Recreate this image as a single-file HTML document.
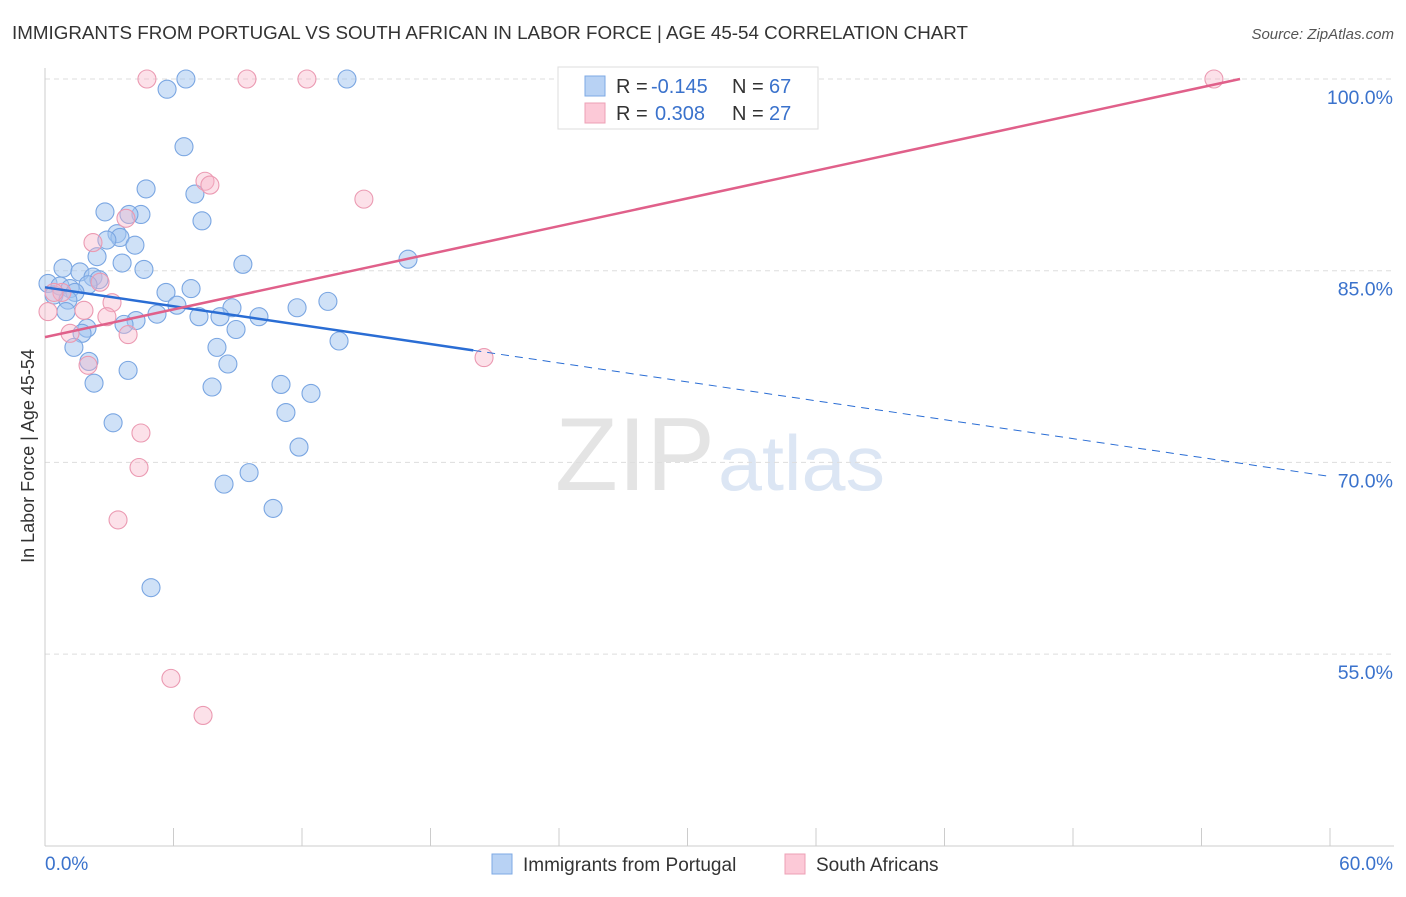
<!DOCTYPE html>
<html><head><meta charset="utf-8"><style>
body{margin:0;background:#fff;font-family:"Liberation Sans",sans-serif}
svg text{font-family:"Liberation Sans",sans-serif}
</style></head><body>
<svg id="c" width="1406" height="892" xmlns="http://www.w3.org/2000/svg">
<text x="12" y="39" font-size="18" fill="#333" textLength="956" lengthAdjust="spacingAndGlyphs">IMMIGRANTS FROM PORTUGAL VS SOUTH AFRICAN IN LABOR FORCE | AGE 45-54 CORRELATION CHART</text>
<text x="1394" y="39" font-size="15" fill="#555" text-anchor="end" font-style="italic">Source: ZipAtlas.com</text>
<text x="555" y="490" font-size="104" fill="#e4e4e4" textLength="160" lengthAdjust="spacingAndGlyphs" font-family="Liberation Serif">ZIP</text>
<text x="718" y="490" font-size="78" fill="#dce6f4" textLength="167" lengthAdjust="spacingAndGlyphs">atlas</text>
<text transform="translate(34,456) rotate(-90)" font-size="18" fill="#333" text-anchor="middle">In Labor Force | Age 45-54</text>
<g id="grid"></g><g id="axes"></g><g id="pts"></g><g id="lines"></g>
<g>
<rect x="558" y="67" width="260" height="62" fill="#fff" stroke="#ddd"/>
<rect x="585" y="76" width="20" height="20" fill="#b8d2f4" stroke="#7ea9e4"/>
<rect x="585" y="103" width="20" height="20" fill="#fcc9d7" stroke="#eda0b6"/>
<text x="616" y="93" font-size="20" fill="#333">R =</text>
<text x="651" y="93" font-size="20" fill="#3a72cc">-0.145</text>
<text x="732" y="93" font-size="20" fill="#333">N =</text>
<text x="769" y="93" font-size="20" fill="#3a72cc">67</text>
<text x="616" y="120" font-size="20" fill="#333">R =</text>
<text x="655" y="120" font-size="20" fill="#3a72cc">0.308</text>
<text x="732" y="120" font-size="20" fill="#333">N =</text>
<text x="769" y="120" font-size="20" fill="#3a72cc">27</text>
</g>
<g>
<rect x="492" y="854" width="20" height="20" fill="#b8d2f4" stroke="#7ea9e4"/>
<text x="523" y="871" font-size="19" fill="#333">Immigrants from Portugal</text>
<rect x="785" y="854" width="20" height="20" fill="#fcc9d7" stroke="#eda0b6"/>
<text x="816" y="871" font-size="19" fill="#333">South Africans</text>
</g>
</svg>
<script>
const blueX=[6.58,14.10,5.70,6.49,4.72,7.00,2.80,4.48,3.92,7.33,3.36,3.50,2.89,4.20,2.43,3.60,9.24,16.95,0.84,4.62,1.63,2.24,2.52,0.14,0.70,1.17,2.01,6.82,5.65,0.42,1.40,1.07,13.21,6.16,11.77,8.73,5.23,7.19,8.17,9.99,0.98,4.25,3.69,8.92,1.96,1.73,13.73,1.35,8.03,8.54,2.05,3.88,2.29,7.80,11.02,12.42,11.25,3.18,11.86,9.53,8.36,10.65,4.95];
const blueY=[100,100,99.2,94.7,91.4,91.0,89.6,89.4,89.4,88.9,87.9,87.6,87.4,87.0,86.1,85.6,85.5,85.9,85.2,85.1,84.9,84.5,84.3,84.0,83.8,83.6,83.9,83.6,83.3,83.1,83.3,82.7,82.6,82.3,82.1,82.1,81.6,81.4,81.4,81.4,81.8,81.1,80.8,80.4,80.5,80.1,79.5,79.0,79.0,77.7,77.9,77.2,76.2,75.9,76.1,75.4,73.9,73.1,71.2,69.2,68.3,66.4,60.2];
const pinkX=[4.76,9.43,12.23,54.58,7.47,7.70,14.89,3.78,2.24,2.57,0.79,0.42,3.13,1.82,2.89,0.14,1.17,3.88,20.50,2.01,4.48,4.39,3.41,5.88,7.38];
const pinkY=[100,100,100,100,92.0,91.7,90.6,89.1,87.2,84.1,83.3,83.3,82.5,81.9,81.4,81.8,80.1,80.0,78.2,77.6,72.3,69.6,65.5,53.1,50.2];
const blueTrend=[83.7,68.9]; // y at x=0 and x=60
const blueSolidEnd=20;
const pinkTrend=[79.8,100]; // y at x=0 and x=55.8
const pinkTrendEndX=55.8;
const yTicks=[100,85,70,55];
const yTickLabels=["100.0%","85.0%","70.0%","55.0%"];
const xTicks=[0,6,12,18,24,30,36,42,48,54,60];
const xEndLabels=["0.0%","60.0%"];

const NS="http://www.w3.org/2000/svg";
const X=v=>45+(v/60)*1285;
const Y=v=>79+(100-v)*12.78;
function mk(tag,at,parent){const e=document.createElementNS(NS,tag);for(const k in at)e.setAttribute(k,at[k]);document.getElementById(parent).appendChild(e);return e;}
yTicks.forEach((t,i)=>{
 const l=mk('line',{x1:45,x2:1394,y1:Y(t),y2:Y(t),stroke:'#ddd','stroke-dasharray':'5,4'},'grid');
 
 
 const tx=mk('text',{x:1393,y:Y(t)+25,'font-size':19.5,fill:'#3a72cc','text-anchor':'end'},'grid');
 tx.textContent=yTickLabels[i];
 
 
});
let a=mk('line',{x1:45,x2:45,y1:68,y2:846,stroke:'#ccc'},'axes');


a=mk('line',{x1:45,x2:1394,y1:846,y2:846,stroke:'#ccc'},'axes');


xTicks.forEach(t=>{const l=mk('line',{x1:X(t),x2:X(t),y1:828,y2:846,stroke:'#ccc'},'axes');
 
 });
[[0,'start'],[60,'end']].forEach((p,i)=>{const t=mk('text',{x:i?1393:45,y:870,'font-size':19,fill:'#3a72cc','text-anchor':p[1]},'axes');t.textContent=xEndLabels[i];
 
 });
blueX.forEach((x,i)=>{const c=mk('circle',{cx:X(x),cy:Y(blueY[i]),r:9,fill:'rgba(160,196,240,0.5)',stroke:'#7aa6e2','stroke-width':1.1},'pts');
 
 });
pinkX.forEach((x,i)=>{const c=mk('circle',{cx:X(x),cy:Y(pinkY[i]),r:9,fill:'rgba(248,180,200,0.4)',stroke:'#eb9ab2','stroke-width':1.1},'pts');
 
 });
const by=x=>blueTrend[0]+(blueTrend[1]-blueTrend[0])*x/60;
let l=mk('line',{x1:X(0),y1:Y(by(0)),x2:X(blueSolidEnd),y2:Y(by(blueSolidEnd)),stroke:'#2a6dd4','stroke-width':2.5},'lines');


l=mk('line',{x1:X(blueSolidEnd),y1:Y(by(blueSolidEnd)),x2:X(60),y2:Y(by(60)),stroke:'#2a6dd4','stroke-width':1,'stroke-dasharray':'8,6'},'lines');


l=mk('line',{x1:X(0),y1:Y(pinkTrend[0]),x2:X(pinkTrendEndX),y2:Y(pinkTrend[1]),stroke:'#e0608a','stroke-width':2.5},'lines');


</script>
</body></html>
